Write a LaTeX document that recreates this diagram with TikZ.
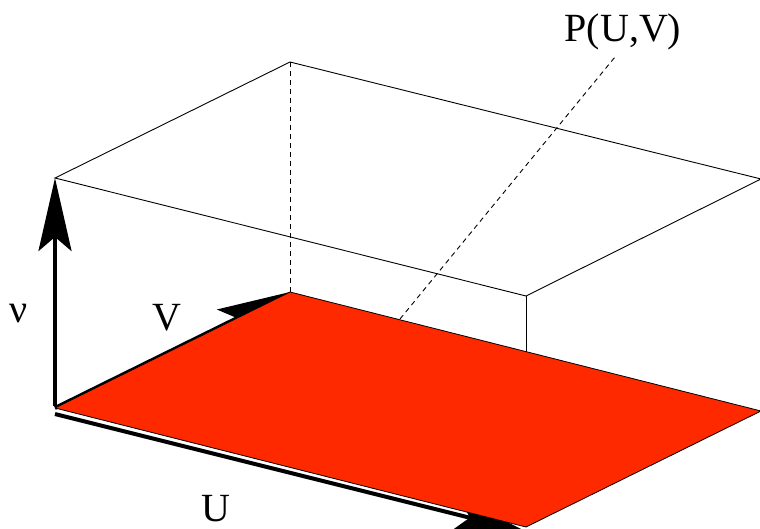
\documentclass[tikz,border=0pt]{standalone}
\usepackage{fontspec}
\setmainfont{Liberation Serif}
\usetikzlibrary{arrows.meta}
\definecolor{planered}{RGB}{255,41,0}
\tikzset{
  edge/.style={line width=0.9pt, black},
  hidden/.style={line width=0.9pt, black, dash pattern=on 5pt off 4pt},
  axis/.style={line width=4pt, black, line cap=butt,
    -{Stealth[length=73pt, width=33pt, inset=14pt]}},
  lbl/.style={font=\fontsize{40}{48}\selectfont, inner sep=0pt, anchor=base},
  plane/.style={fill=planered, draw=black, line width=0.8pt, line join=round}
}
\begin{document}
\begin{tikzpicture}[x=1pt,y=-1pt]
\useasboundingbox (0,0) rectangle (760,529);
\begin{scope}
\clip (0,0) rectangle (760,529);
% base corners
\coordinate (O) at (55,408);
\coordinate (Vb) at (290,292);
\coordinate (Ub) at (526,527);
\coordinate (Fb) at (761,411);
% top corners
\coordinate (Ot) at (55,178);
\coordinate (Vt) at (290,62);
\coordinate (Ut) at (526,296);
\coordinate (Ft) at (761,179);
% U axis endpoints (offset below edge)
\coordinate (Ua0) at (55,414);
\coordinate (Ua1) at (527,532);
% box
\draw[edge] (Ot) -- (Vt) -- (Ft) -- (Ut) -- cycle;
\draw[edge] (Ut) -- (Ub);
\draw[hidden] (Vt) -- (Vb);
% axes
\draw[axis] (Ua0) -- (Ua1);
\draw[axis] ([yshift=2pt]O) -- (Ot);
\draw[axis] (O) -- (Vb);
% plane
\draw[plane] (O) -- (Vb) -- (Fb) -- (Ub) -- cycle;
% P(U,V) leader
\coordinate (Pbase) at (400,319);
\coordinate (Pend) at (615,57);
\draw[hidden] (Pbase) -- (Pend);
\end{scope}
% labels
\node[lbl] (nu) at (19,323) {ν};
\node[lbl] (Vl) at (167,330) {V};
\node[lbl] (Ul) at (216,521) {U};
\node[lbl] (Pl) at (623,42) {P(U,V)};
\end{tikzpicture}
\end{document}
